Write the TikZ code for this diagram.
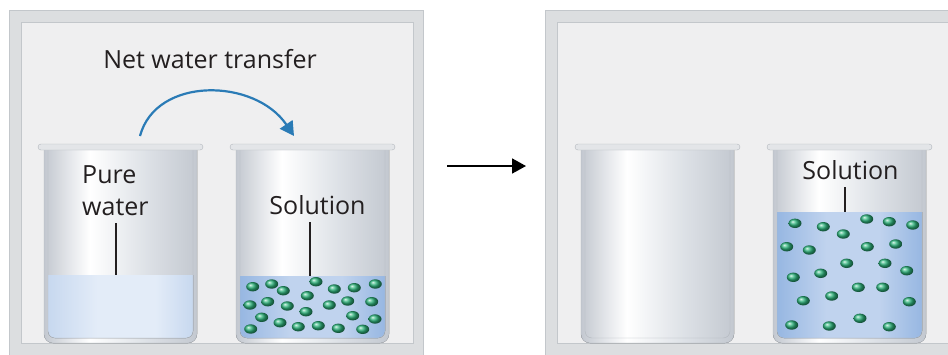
\documentclass[tikz,border=0pt]{standalone}
\usepackage{fontspec}
\setmainfont{Open Sans}
\usetikzlibrary{arrows.meta}

\definecolor{framegray}{HTML}{DCDEE0}
\definecolor{frameline}{HTML}{C3C7CB}
\definecolor{panelgray}{HTML}{EFEFF0}
\definecolor{glassedge}{HTML}{C3C8D0}
\definecolor{glassmid}{HTML}{DEE2E7}
\definecolor{glassline}{HTML}{B3B8BE}
\definecolor{rimgray}{HTML}{E3E5E8}
\definecolor{waterlight}{HTML}{E3ECF8}
\definecolor{waterblue}{HTML}{C7D8EF}
\definecolor{solnlight}{HTML}{C0D3EE}
\definecolor{solnblue}{HTML}{97B7E2}
\definecolor{flowblue}{HTML}{2A7BB6}
\definecolor{solute}{HTML}{2DB47C}
\definecolor{inkgray}{HTML}{231F20}

% left-to-right shadings for glass and liquids
\pgfdeclarehorizontalshading{glass}{100bp}{color(0bp)=(glassedge); color(25bp)=(glassedge);
  color(40bp)=(white); color(58bp)=(glassmid); color(75bp)=(glassedge); color(100bp)=(glassedge)}
\pgfdeclarehorizontalshading{water}{100bp}{color(0bp)=(waterblue); color(25bp)=(waterblue);
  color(42bp)=(waterlight); color(62bp)=(waterlight); color(75bp)=(waterblue); color(100bp)=(waterblue)}
\pgfdeclarehorizontalshading{soln}{100bp}{color(0bp)=(solnblue); color(25bp)=(solnblue);
  color(42bp)=(solnlight); color(60bp)=(solnlight); color(75bp)=(solnblue); color(100bp)=(solnblue)}

% beaker: rim left x, liquid level (local y, empty for none), liquid shading
\newcommand\beaker[3]{%
  \begin{scope}[shift={(#1,144)}]
    \fill[shading=glass] (6,6) [rounded corners=9pt] -- (6,199) -- (159,199) [sharp corners] -- (159,6) -- cycle;
    \ifx\relax#2\relax\else
      \fill[shading=#3] (10,#2) [rounded corners=7pt] -- (10,194) -- (155,194) [sharp corners] -- (155,#2) -- cycle;
    \fi
    \draw[glassline, rounded corners=7pt] (10,6) -- (10,194) -- (155,194) -- (155,6);
    \draw[glassline, rounded corners=9pt] (6,6) -- (6,199) -- (159,199) -- (159,6);
    \filldraw[fill=rimgray, draw=glassline, rounded corners=3pt] (0,0) rectangle (165,6);
  \end{scope}}

\begin{document}
\begin{tikzpicture}[x=1pt, y=-1pt,
    label/.style={inner sep=0pt, text=inkgray, font=\fontsize{25}{32}\selectfont},
    pointer/.style={draw=inkgray, line width=1.1pt},
    flow/.style={draw=flowblue, line width=2.2pt, -{Triangle[length=14pt, width=15pt]}},
    timestep/.style={draw=black, line width=1.8pt, -{Triangle[length=14pt, width=15pt]}},
    molecule/.style={ball color=solute}]
  \useasboundingbox (0,0) rectangle (948,354);
  \clip (0,0) rectangle (948,354);
  \fill[white] (0,0) rectangle (948,354);

  % panels
  \filldraw[fill=framegray, draw=frameline] (9,10) rectangle (423,370);
  \filldraw[fill=panelgray, draw=frameline] (21,22) rectangle (413,343);
  \filldraw[fill=framegray, draw=frameline] (545,10) rectangle (970,370);
  \filldraw[fill=panelgray, draw=frameline] (557,22) rectangle (970,343);

  % beakers
  \beaker{38}{131}{water}
  \beaker{230}{132}{soln}
  \beaker{575}{}{}
  \beaker{767}{68}{soln}

  % solute particles
  \foreach \p in {(252.7,286.7),(271.7,284),(283.3,290.7),(316,281.7),(334.3,289),(354.3,287.7),
      (375.3,284),(250,305),(267.7,301.7),(287.3,306),(307.3,295.7),(329.3,305),(347.7,301),
      (371.7,301.7),(261.7,317.3),(280,322.7),(306,311.7),(352.7,315.7),(375,319),(250.7,329),
      (298.3,326.7),(318.3,325.7),(338.3,328.3),(362.7,329.3)}
    \shade[molecule] \p ellipse [x radius=6.5, y radius=4.7];
  \foreach \p in {(795,223.3),(823.3,226.7),(843.3,234),(866.7,219),(889.3,221.7),(912.7,225),
      (786.7,246.7),(809.3,250),(867.3,246.7),(895.7,244),(846.7,263.3),(885,263.3),(906.7,270.7),
      (793.3,277.3),(820.7,273.3),(858.3,287.3),(882.7,287.3),(803.3,300.7),(831.7,296),
      (909.3,301.7),(791.7,325),(829.3,326),(860,318.3),(889.3,326.7)}
    \shade[molecule] \p ellipse [x radius=6.5, y radius=4.7];

  % labels
  \node[label, anchor=base] (title) at (210,68) {Net water transfer};
  \node[label, anchor=base west, align=left] (pure) at (82,215) {Pure\\water};
  \node[label, anchor=base] (sol1) at (317.5,214) {Solution};
  \node[label, anchor=base] (sol2) at (850.5,179) {Solution};

  \coordinate (lvl1) at (116,275);
  \coordinate (lvl2) at (310,276);
  \coordinate (lvl3) at (845,212);
  \draw[pointer] (lvl1 |- pure.south) ++(0,8) -- (lvl1);
  \draw[pointer] (lvl2 |- sol1.south) ++(0,8) -- (lvl2);
  \draw[pointer] (lvl3 |- sol2.south) ++(0,8) -- (lvl3);

  % water movement and time step
  \coordinate (from) at (140,136);
  \coordinate (to) at (294,136);
  \draw[flow] (from) .. controls (156,76) and (255,78) .. (to);
  \coordinate (before) at (447,166);
  \coordinate (after) at (526,166);
  \draw[timestep] (before) -- (after);
\end{tikzpicture}
\end{document}
